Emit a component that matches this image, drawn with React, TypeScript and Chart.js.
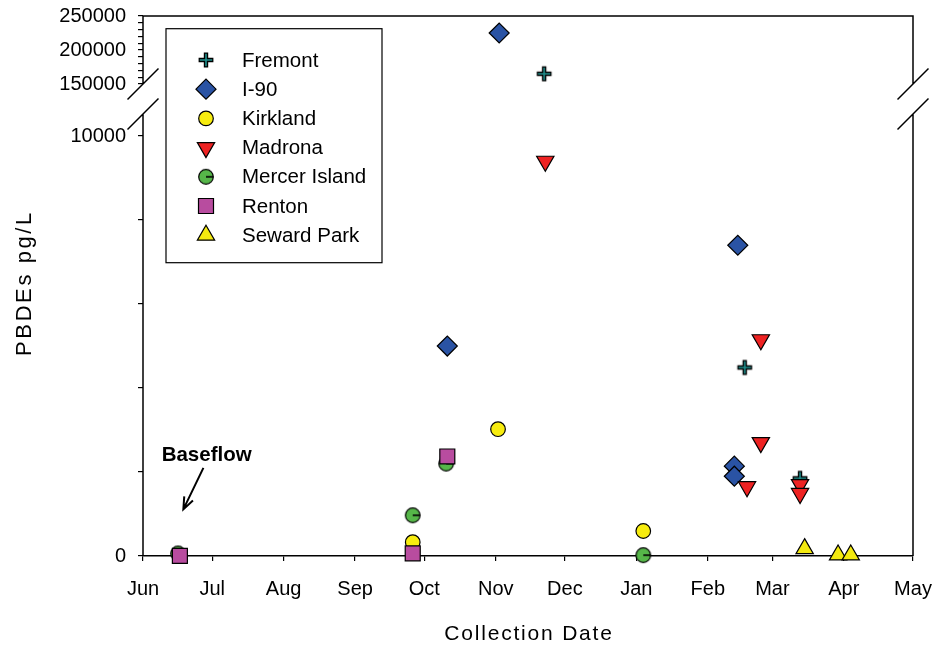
import React, { useEffect, useRef } from 'react';
import { Chart, registerables } from 'chart.js';
import { drawPoint } from 'chart.js/helpers';

Chart.register(...registerables);

// ---- axis definitions ----
const monthLabels = ['Jun', 'Jul', 'Aug', 'Sep', 'Oct', 'Nov', 'Dec', 'Jan', 'Feb', 'Mar', 'Apr', 'May'];
const monthStartDays = [0, 30, 61, 92, 122, 153, 183, 214, 245, 273, 304, 334]; // days since Jun 1
const lowerTicks = [0, 2000, 4000, 6000, 8000, 10000];
const lowerLabelled = [0, 10000];
const upperTicks = [150000, 160000, 170000, 180000, 190000, 200000, 210000, 220000, 230000, 240000, 250000];
const upperLabelled = [150000, 200000, 250000];
const lowerMax = 11240;
const upperMin = 150000;
const upperMax = 250000;

// ---- data (x = days since Jun 1, y = PBDEs pg/L) ----
const fremontDays = [174, 261, 285];
const fremontValues = [165000, 4490, 1850];
const i90Days = [132, 154.5, 256.5, 256.5, 258];
const i90Values = [5000, 225000, 2140, 1900, 7400];
const kirklandDays = [117, 154, 217];
const kirklandValues = [330, 3020, 595];
const madronaDays = [174.5, 262, 268, 268, 285, 285];
const madronaValues = [9400, 1650, 2700, 5150, 1700, 1490];
const mercerDays = [15.2, 117, 131.5, 217];
const mercerValues = [60, 970, 2200, 20];
const rentonDays = [16, 117, 132];
const rentonValues = [5, 64, 2370];
const sewardDays = [287, 301.5, 307];
const sewardValues = [175, 25, 25];

const FONT = "'Liberation Sans', Arial, sans-serif";

function makePlus(): HTMLCanvasElement {
  const c = document.createElement('canvas');
  c.width = 18; c.height = 18;
  const g = c.getContext('2d')!;
  g.lineCap = 'butt';
  g.strokeStyle = '#000'; g.lineWidth = 4.4;
  g.beginPath(); g.moveTo(1.6, 9); g.lineTo(16.4, 9); g.moveTo(9, 1.6); g.lineTo(9, 16.4); g.stroke();
  g.strokeStyle = '#1f8f8c'; g.lineWidth = 1.6;
  g.beginPath(); g.moveTo(2.8, 9); g.lineTo(15.2, 9); g.moveTo(9, 2.8); g.lineTo(9, 15.2); g.stroke();
  return c;
}

function makeMercer(): HTMLCanvasElement {
  const c = document.createElement('canvas');
  c.width = 18; c.height = 18;
  const g = c.getContext('2d')!;
  g.beginPath(); g.arc(9, 9, 7.3, 0, Math.PI * 2);
  g.fillStyle = '#56b649'; g.fill();
  g.strokeStyle = '#000'; g.lineWidth = 1.2; g.stroke();
  g.beginPath(); g.moveTo(9, 9); g.lineTo(16.3, 9); g.lineWidth = 1.6; g.stroke();
  return c;
}

const noPad = (s: any) => {
  s.paddingTop = 0; s.paddingBottom = 0; s.paddingLeft = 0; s.paddingRight = 0;
};

export default function App() {
  const ref = useRef<HTMLCanvasElement>(null);

  useEffect(() => {
    const plusImg = makePlus();
    const mercerImg = makeMercer();

    const series: any[] = [
      { name: 'Fremont', days: fremontDays, values: fremontValues, pointStyle: plusImg, rotation: 0, radius: 8, fill: '#1f8f8c' },
      { name: 'I-90', days: i90Days, values: i90Values, pointStyle: 'rectRot', rotation: 0, radius: 10, fill: '#2a53a4' },
      { name: 'Kirkland', days: kirklandDays, values: kirklandValues, pointStyle: 'circle', rotation: 0, radius: 7.3, fill: '#f7ec0f' },
      { name: 'Madrona', days: madronaDays, values: madronaValues, pointStyle: 'triangle', rotation: 180, radius: 10, fill: '#ee2222' },
      { name: 'Mercer Island', days: mercerDays, values: mercerValues, pointStyle: mercerImg, rotation: 0, radius: 8, fill: '#56b649' },
      { name: 'Renton', days: rentonDays, values: rentonValues, pointStyle: 'rect', rotation: 0, radius: 10.6, fill: '#b84c9f' },
      { name: 'Seward Park', days: sewardDays, values: sewardValues, pointStyle: 'triangle', rotation: 0, radius: 10, fill: '#f3e90f' },
    ];

    const datasets: any[] = [];
    series.forEach((s, i) => {
      const low: any[] = [];
      const high: any[] = [];
      s.days.forEach((d: number, k: number) => {
        const v = s.values[k];
        (v > lowerMax ? high : low).push({ x: d, y: v });
      });
      const base = {
        label: s.name,
        pointStyle: s.pointStyle,
        rotation: s.rotation,
        pointRadius: s.radius,
        pointBackgroundColor: s.fill,
        pointBorderColor: '#000',
        pointBorderWidth: 1.2,
        showLine: false,
        clip: false,
        order: -i,
      };
      datasets.push({ ...base, data: low, yAxisID: 'yLow' });
      if (high.length) datasets.push({ ...base, data: high, yAxisID: 'yHigh' });
    });

    const framePlugin = {
      id: 'frameAndText',
      afterDraw(chart: any) {
        const ctx = chart.ctx as CanvasRenderingContext2D;
        const { left, right, top, bottom } = chart.chartArea;
        const b1 = chart.scales.yHigh.bottom;
        const b2 = b1 + 30;
        ctx.save();
        ctx.strokeStyle = '#000';
        ctx.lineWidth = 1.5;
        ctx.beginPath();
        ctx.moveTo(left, b1); ctx.lineTo(left, top); ctx.lineTo(right, top); ctx.lineTo(right, b1);
        ctx.moveTo(left, b2); ctx.lineTo(left, bottom);
        ctx.moveTo(right, b2); ctx.lineTo(right, bottom);
        for (const x of [left, right]) {
          for (const y of [b1, b2]) {
            ctx.moveTo(x - 15.5, y + 15.5);
            ctx.lineTo(x + 15.5, y - 15.5);
          }
        }
        ctx.stroke();

        // axis titles
        ctx.fillStyle = '#000';
        ctx.textAlign = 'center';
        ctx.textBaseline = 'alphabetic';
        ctx.font = `22px ${FONT}`;
        (ctx as any).letterSpacing = '2.6px';
        ctx.save();
        ctx.translate(31, 283);
        ctx.rotate(-Math.PI / 2);
        ctx.fillText('PBDEs pg/L', 0, 0);
        ctx.restore();
        ctx.font = `21px ${FONT}`;
        (ctx as any).letterSpacing = '1.8px';
        ctx.fillText('Collection Date', (left + right) / 2 + 1, 640);
        (ctx as any).letterSpacing = '0px';

        // Baseflow annotation
        const xs = chart.scales.x;
        const yl = chart.scales.yLow;
        ctx.font = `bold 20.5px ${FONT}`;
        ctx.fillText('Baseflow', xs.getPixelForValue(27.6), yl.getPixelForValue(2270));
        const ax0 = xs.getPixelForValue(26.2), ay0 = yl.getPixelForValue(2100);
        const ax1 = xs.getPixelForValue(17.5), ay1 = yl.getPixelForValue(1110);
        ctx.lineWidth = 2;
        ctx.beginPath();
        ctx.moveTo(ax0, ay0); ctx.lineTo(ax1, ay1);
        const ang = Math.atan2(ay1 - ay0, ax1 - ax0);
        const hl = 13, ha = 0.38;
        ctx.moveTo(ax1 - hl * Math.cos(ang - ha), ay1 - hl * Math.sin(ang - ha));
        ctx.lineTo(ax1, ay1);
        ctx.lineTo(ax1 - hl * Math.cos(ang + ha), ay1 - hl * Math.sin(ang + ha));
        ctx.stroke();

        // legend
        const lx = left + 23, ly = top + 12.7, lw = 216, lh = 234;
        ctx.lineWidth = 1.2;
        ctx.strokeRect(lx, ly, lw, lh);
        ctx.font = `20.5px ${FONT}`;
        ctx.textAlign = 'left';
        ctx.textBaseline = 'middle';
        series.forEach((s, i) => {
          const cy = ly + 31.3 + i * 29.2;
          const cx = lx + 40;
          ctx.fillStyle = s.fill;
          ctx.strokeStyle = '#000';
          ctx.lineWidth = 1.2;
          drawPoint(ctx, { pointStyle: s.pointStyle, rotation: s.rotation, radius: s.radius, borderWidth: 1.2 } as any, cx, cy);
          ctx.fillStyle = '#000';
          ctx.fillText(s.name, lx + 76, cy + 1);
        });
        ctx.restore();
      },
    };

    const tickGrid = { drawOnChartArea: false, drawTicks: true, tickLength: 5, color: '#000', lineWidth: 1.2 };

    const chart = new Chart(ref.current!, {
      type: 'scatter',
      data: { datasets },
      options: {
        animation: false,
        responsive: true,
        maintainAspectRatio: false,
        events: [],
        layout: { padding: { top: 16, right: 22, left: 0, bottom: 0 } },
        plugins: { legend: { display: false }, tooltip: { enabled: false } },
        scales: {
          x: {
            type: 'linear',
            min: 0,
            max: 334,
            afterBuildTicks: (s: any) => { s.ticks = monthStartDays.map((v) => ({ value: v })); },
            afterFit: (s: any) => { s.height = 90; noPad(s); },
            ticks: {
              autoSkip: false,
              maxRotation: 0,
              padding: 16,
              color: '#000',
              font: { family: FONT, size: 20 },
              callback: (v: any) => monthLabels[monthStartDays.indexOf(Number(v))] ?? '',
            },
            grid: tickGrid,
            border: { display: true, color: '#000', width: 1.5 },
          },
          yLow: {
            type: 'linear',
            position: 'left',
            stack: 'y',
            stackWeight: 472,
            weight: 0,
            min: 0,
            max: lowerMax,
            afterBuildTicks: (s: any) => { s.ticks = lowerTicks.map((v) => ({ value: v })); },
            afterFit: (s: any) => { s.width = 143; noPad(s); },
            ticks: {
              autoSkip: false,
              padding: 12,
              color: '#000',
              font: { family: FONT, size: 20 },
              callback: (v: any) => (lowerLabelled.includes(Number(v)) ? String(v) : ''),
            },
            grid: tickGrid,
            border: { display: false },
          },
          yHigh: {
            type: 'linear',
            position: 'left',
            stack: 'y',
            stackWeight: 68,
            weight: 1,
            min: upperMin,
            max: upperMax,
            afterBuildTicks: (s: any) => { s.ticks = upperTicks.map((v) => ({ value: v })); },
            afterFit: (s: any) => { s.width = 143; noPad(s); },
            ticks: {
              autoSkip: false,
              padding: 12,
              color: '#000',
              font: { family: FONT, size: 20 },
              callback: (v: any) => (upperLabelled.includes(Number(v)) ? String(v) : ''),
            },
            grid: tickGrid,
            border: { display: false },
          },
        },
      } as any,
      plugins: [framePlugin],
    });

    return () => chart.destroy();
  }, []);

  return (
    <div style={{ position: 'fixed', left: 0, top: 0, width: 935, height: 646, background: '#fff' }}>
      <canvas ref={ref} />
    </div>
  );
}
